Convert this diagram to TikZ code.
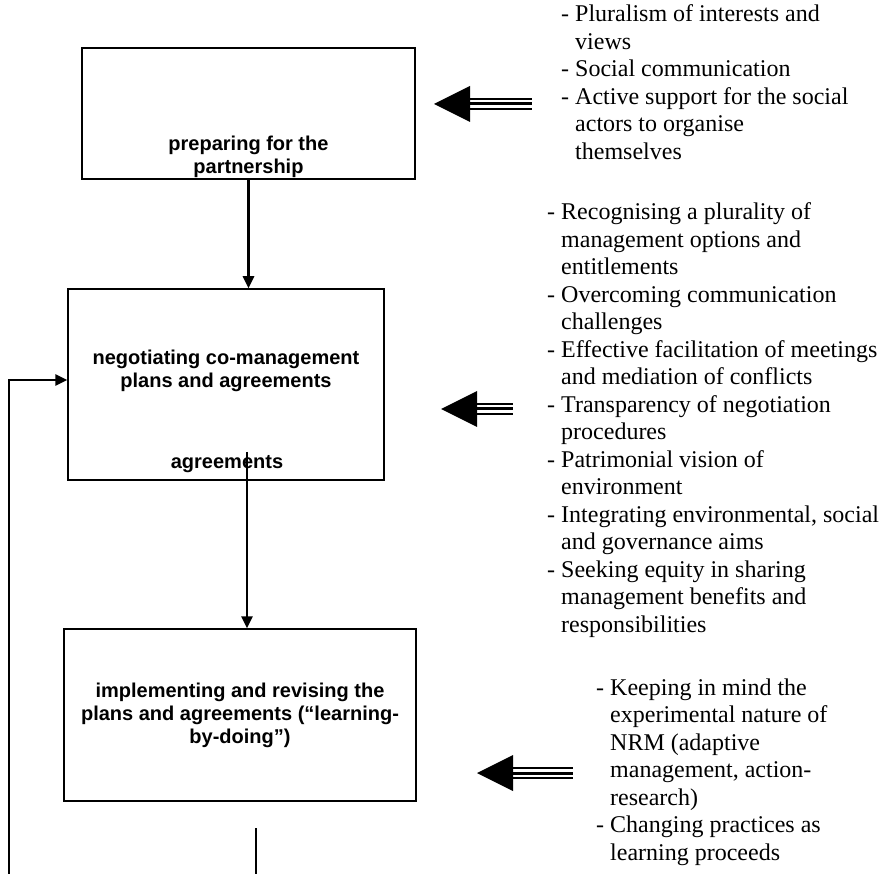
\documentclass[tikz,border=0pt]{standalone}
\usepackage{fontspec}
\setmainfont{Liberation Serif}
\setsansfont{Liberation Sans}
\usetikzlibrary{arrows.meta}
\begin{document}
\begin{tikzpicture}[x=1pt,y=-1pt,
  stagebox/.style={draw=black, line width=1.5pt, inner sep=0pt},
  stagetext/.style={font=\sffamily\bfseries\fontsize{20}{23}\selectfont, inner sep=0pt, anchor=base},
  notes/.style={font=\fontsize{24}{27.5}\selectfont, inner sep=0pt, anchor=base west},
  flow/.style={line width=2.7pt, line join=miter, -{Triangle[length=12pt,width=11pt]}},
  stub/.style={line width=2.7pt},
  pics/fatarrow/.style={code={
    \fill (0,0) -- (36,-18) -- (36,18) -- cycle;
    \draw[line width=3pt] (35,0) -- (#1,0);
    \draw[line width=1.4pt] (35,-5) -- (#1,-5);
    \draw[line width=1.4pt] (35,5) -- (#1,5);
  }}]
\useasboundingbox (0,0) rectangle (884,874);

% the three stages
\node[stagebox, minimum width=333pt, minimum height=131pt] (box1) at (248.5,113.5) {};
\node[stagebox, minimum width=316pt, minimum height=191pt] (box2) at (226,384.5) {};
\node[stagebox, minimum width=352pt, minimum height=172pt] (box3) at (240,715) {};

\node[stagetext] (t1) at (248.5,151) {\begin{tabular}[t]{@{}c@{}}preparing for the\\ partnership\end{tabular}};
\node[stagetext] (t2) at (226,364.5) {\begin{tabular}[t]{@{}c@{}}negotiating co-management\\ plans and agreements\end{tabular}};
\node[stagetext] (t2b) at (227,469) {agreements};
\node[stagetext] (t3) at (240,697) {\begin{tabular}[t]{@{}c@{}}implementing and revising the\\ plans and agreements (“learning-\\ by-doing”)\end{tabular}};

% connectors between the stages
\coordinate (a2) at (247,452);
\coordinate (h) at (0,380);
\coordinate (loopstart) at (9,874);
\coordinate (s1) at (256,828);
\coordinate (s2) at (256,874);
\draw[flow] (box1.south) -- (box1.south |- box2.north);
\draw[flow] (a2) -- (a2 |- box3.north);
\draw[flow] (loopstart) |- (box2.west |- h);
\draw[stub] (s1) -- (s2);

% block arrows pointing at the stages
\pic at (434,104) {fatarrow=98};
\pic at (441,409) {fatarrow=72};
\pic at (477,773) {fatarrow=96};

% conditions for each stage
\node[notes] (n1) at (561,22) {\begin{tabular}[t]{@{}l@{}}
- Pluralism of interests and\\
\hphantom{- }views\\
- Social communication\\
- Active support for the social\\
\hphantom{- }actors to organise\\
\hphantom{- }themselves\end{tabular}};
\node[notes] (n2) at (547,220) {\begin{tabular}[t]{@{}l@{}}
- Recognising a plurality of\\
\hphantom{- }management options and\\
\hphantom{- }entitlements\\
- Overcoming communication\\
\hphantom{- }challenges\\
- Effective facilitation of meetings\\
\hphantom{- }and mediation of conflicts\\
- Transparency of negotiation\\
\hphantom{- }procedures\\
- Patrimonial vision of\\
\hphantom{- }environment\\
- Integrating environmental, social\\
\hphantom{- }and governance aims\\
- Seeking equity in sharing\\
\hphantom{- }management benefits and\\
\hphantom{- }responsibilities\end{tabular}};
\node[notes] (n3) at (596,695) {\begin{tabular}[t]{@{}l@{}}
- Keeping in mind the\\
\hphantom{- }experimental nature of\\
\hphantom{- }NRM (adaptive\\
\hphantom{- }management, action-\\
\hphantom{- }research)\\
- Changing practices as\\
\hphantom{- }learning proceeds\end{tabular}};
\end{tikzpicture}
\end{document}
